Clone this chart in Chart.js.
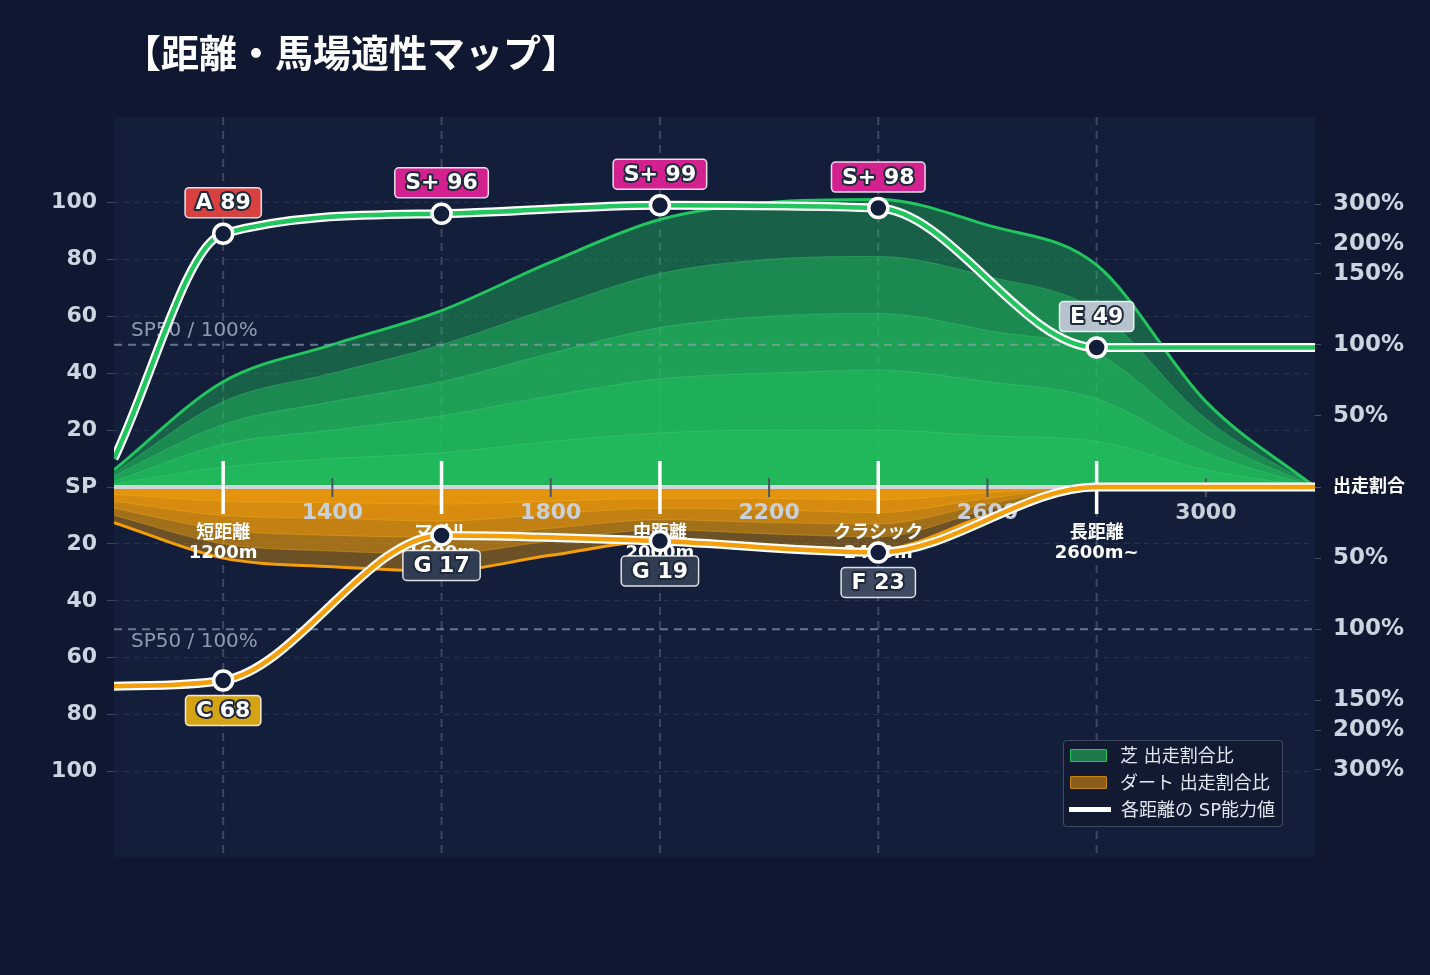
<!DOCTYPE html>
<html lang="ja">
<head>
<meta charset="utf-8">
<title>距離・馬場適性マップ</title>
<script src="https://cdn.jsdelivr.net/npm/chart.js@4.4.1/dist/chart.umd.min.js"></script>
<style>
  html, body { margin: 0; padding: 0; background: #0f1830; }
  #wrap { position: relative; width: 1430px; height: 975px; overflow: hidden; }
  #title {
    position: absolute; left: 123px; top: 31px; margin: 0;
    font: bold 38px/46px 'DejaVu Sans', 'Noto Sans CJK JP', sans-serif;
    color: #ffffff; letter-spacing: 0;
  }
  #legend {
    position: absolute; left: 1063px; top: 740px; width: 220px; height: 87px;
    box-sizing: border-box; border: 1px solid rgba(148, 163, 184, 0.35);
    border-radius: 4px; background: #111a30; padding: 1px 0 0 5px;
    font: 18px/27px 'DejaVu Sans', 'Noto Sans CJK JP', sans-serif; color: #e2e8f0;
  }
  #legend .row { height: 27px; display: flex; align-items: center; white-space: nowrap; }
  #legend .sw { width: 35px; height: 11px; margin: 0 13px 0 1px; border: 1.5px solid; border-radius: 1px; }
  #legend .ln { width: 42px; height: 5px; margin: 0 10px 0 0; background: #ffffff; }
</style>
</head>
<body>
<div id="wrap">
  <canvas id="mapChart" width="1430" height="975"></canvas>
  <h1 id="title">【距離・馬場適性マップ】</h1>
  <div id="legend">
    <div class="row"><span class="sw" style="background:#1c7a4b;border-color:#22c55e"></span>芝 出走割合比</div>
    <div class="row"><span class="sw" style="background:#8a5e1c;border-color:#c9860f"></span>ダート 出走割合比</div>
    <div class="row"><span class="ln"></span>各距離の SP能力値</div>
  </div>
</div>
<script>
// 距離ごとの SP能力値
const spDistances = [1000, 1200, 1600, 2000, 2400, 2800, 3200];
const turfSP = [10, 89, 96, 99, 98, 49, 49];
const dirtSP = [70, 68, 17, 19, 23, 0, 0];
const turfGrades = ['', 'A', 'S+', 'S+', 'S+', 'E', ''];
const dirtGrades = ['', 'C', 'G', 'G', 'F', '', ''];

// 出走割合 (層ごと)
const shareDistances = [1000, 1200, 1400, 1600, 1800, 2000, 2200, 2400, 2600, 2800, 3000, 3200];
const turfLayer1 = [6, 37, 50, 62, 79, 94, 100, 101, 92, 78, 30, 0];
const turfLayer2 = [5, 30, 40, 50, 63, 75, 80, 81, 74, 62, 24, 0];
const turfLayer3 = [4, 22, 30, 37, 47, 56, 60, 61, 55, 47, 18, 0];
const turfLayer4 = [2, 15, 20, 25, 32, 38, 40, 41, 37, 31, 12, 0];
const turfLayer5 = [1, 7, 10, 12, 16, 19, 20, 20, 18, 16, 6, 0];
const dirtLayer1 = [12.5, 25, 28, 29.5, 24, 19, 20.5, 22, 10, 0, 0, 0];
const dirtLayer2 = [10, 20, 22.5, 23.5, 19, 15, 16.5, 17.5, 8, 0, 0, 0];
const dirtLayer3 = [7.5, 15, 17, 17.5, 14.5, 11.5, 12.5, 13, 6, 0, 0, 0];
const dirtLayer4 = [5, 10, 11, 12, 9.5, 7.5, 8, 9, 4, 0, 0, 0];
const dirtLayer5 = [2.5, 5, 5.5, 6, 5, 4, 4, 4.5, 2, 0, 0, 0];

// カテゴリ
const categoryPositions = [1200, 1600, 2000, 2400, 2800];
const categoryNames = ['短距離', 'マイル', '中距離', 'クラシック', '長距離'];
const categoryDists = ['1200m', '1600m', '2000m', '2400m', '2600m~'];

// 目盛り
const xTickValues = [1400, 1800, 2200, 2600, 3000];
const leftTickValues = [100, 80, 60, 40, 20, 0, -20, -40, -60, -80, -100];
const rightTickValues = [99.3, 85.5, 75, 50, 25, 0, -25, -50, -75, -85.5, -99.3];
const rightTickLabels = ['300%', '200%', '150%', '100%', '50%', '出走割合', '50%', '100%', '150%', '200%', '300%'];

const FONT = "'DejaVu Sans', 'Noto Sans CJK JP', sans-serif";
const GRADE_COLORS = {
    'S+': '#d3218f',
    'A': '#d94141',
    'C': '#d4a414',
    'E': '#b6c2cc',
    'F': '#3d4a5f',
    'G': '#303d52'
};

function toPoints(xs, ys, sign) {
    return ys.map((v, i) => ({ x: xs[i], y: sign * v }));
}

function spDatasets(values, sign, grades, color) {
    return [
        {
            data: toPoints(spDistances, values, sign),
            borderColor: color,
            borderWidth: 4.5,
            fill: false,
            cubicInterpolationMode: 'monotone',
            pointRadius: ctx => grades[ctx.dataIndex] ? 9.5 : 0,
            pointBackgroundColor: '#131f3a',
            pointBorderColor: '#ffffff',
            pointBorderWidth: 3.5
        },
        {
            data: toPoints(spDistances, values, sign),
            borderColor: '#ffffff',
            borderWidth: 9,
            fill: false,
            cubicInterpolationMode: 'monotone',
            pointRadius: 0
        }
    ];
}

function layerDataset(values, sign, fillColor, lineColor, lineWidth) {
    return {
        data: toPoints(shareDistances, values, sign),
        fill: 'origin',
        backgroundColor: fillColor,
        borderColor: lineColor,
        borderWidth: lineWidth,
        cubicInterpolationMode: 'monotone',
        pointRadius: 0
    };
}

const TURF_FILL = 'rgba(34, 197, 94, 0.4)';
const DIRT_FILL = 'rgba(245, 158, 11, 0.4)';

const datasets = [
    ...spDatasets(turfSP, 1, turfGrades, '#22c55e'),
    ...spDatasets(dirtSP, -1, dirtGrades, '#f59e0b'),
    layerDataset(turfLayer5, 1, TURF_FILL, 'rgba(74, 222, 128, 0.3)', 1),
    layerDataset(turfLayer4, 1, TURF_FILL, 'rgba(74, 222, 128, 0.3)', 1),
    layerDataset(turfLayer3, 1, TURF_FILL, 'rgba(74, 222, 128, 0.3)', 1),
    layerDataset(turfLayer2, 1, TURF_FILL, 'rgba(74, 222, 128, 0.3)', 1),
    layerDataset(turfLayer1, 1, TURF_FILL, '#22c55e', 3),
    layerDataset(dirtLayer5, -1, DIRT_FILL, 'rgba(251, 191, 36, 0.3)', 1),
    layerDataset(dirtLayer4, -1, DIRT_FILL, 'rgba(251, 191, 36, 0.3)', 1),
    layerDataset(dirtLayer3, -1, DIRT_FILL, 'rgba(251, 191, 36, 0.3)', 1),
    layerDataset(dirtLayer2, -1, DIRT_FILL, 'rgba(251, 191, 36, 0.3)', 1),
    layerDataset(dirtLayer1, -1, DIRT_FILL, '#f59e0b', 3)
];
const LAST_FILL_INDEX = 4; // この層を描いた直後に中央軸などを描く

function dashedLine(ctx, x1, y1, x2, y2, color, width, dash) {
    ctx.save();
    ctx.strokeStyle = color;
    ctx.lineWidth = width;
    ctx.setLineDash(dash);
    ctx.beginPath();
    ctx.moveTo(x1, y1);
    ctx.lineTo(x2, y2);
    ctx.stroke();
    ctx.restore();
}

const mapPlugin = {
    id: 'mapPlugin',
    beforeDraw(chart) {
        const { ctx, chartArea: a } = chart;
        ctx.save();
        ctx.fillStyle = '#0f1830';
        ctx.fillRect(0, 0, chart.width, chart.height);
        ctx.fillStyle = '#121e3a';
        ctx.fillRect(a.left, a.top, a.right - a.left, a.bottom - a.top);
        ctx.restore();
    },
    beforeDatasetsDraw(chart) {
        const { ctx, chartArea: a, scales } = chart;
        categoryPositions.forEach(d => {
            const x = scales.x.getPixelForValue(d);
            dashedLine(ctx, x, a.top, x, a.bottom, 'rgba(148, 163, 184, 0.32)', 2, [8, 6]);
        });
    },
    afterDatasetDraw(chart, args) {
        if (args.index !== LAST_FILL_INDEX) return;
        const { ctx, chartArea: a, scales } = chart;
        const y0 = scales.y.getPixelForValue(0);

        // SP50 / 100% 基準線
        [50, -50].forEach(v => {
            const y = scales.y.getPixelForValue(v);
            dashedLine(ctx, a.left, y, a.right, y, 'rgba(148, 163, 184, 0.65)', 2, [8, 6]);
            ctx.save();
            ctx.font = '20px ' + FONT;
            ctx.fillStyle = '#8e9aad';
            ctx.textAlign = 'left';
            ctx.textBaseline = 'middle';
            ctx.fillText('SP50 / 100%', a.left + 17, v > 0 ? y - 14 : y + 12);
            ctx.restore();
        });

        // 中央軸
        ctx.save();
        ctx.strokeStyle = '#d1d5db';
        ctx.lineWidth = 4;
        ctx.beginPath();
        ctx.moveTo(a.left, y0);
        ctx.lineTo(a.right, y0);
        ctx.stroke();

        // 距離目盛り
        ctx.strokeStyle = '#4b5563';
        ctx.lineWidth = 2;
        ctx.font = 'bold 22px ' + FONT;
        ctx.fillStyle = '#c8d0dc';
        ctx.textAlign = 'center';
        ctx.textBaseline = 'middle';
        xTickValues.forEach(d => {
            const x = scales.x.getPixelForValue(d);
            ctx.beginPath();
            ctx.moveTo(x, y0 - 9);
            ctx.lineTo(x, y0 + 10);
            ctx.stroke();
            ctx.fillText(String(d), x, y0 + 26);
        });

        // カテゴリ
        ctx.strokeStyle = '#ffffff';
        ctx.lineWidth = 3.5;
        ctx.fillStyle = '#ffffff';
        categoryPositions.forEach((d, i) => {
            const x = scales.x.getPixelForValue(d);
            ctx.beginPath();
            ctx.moveTo(x, y0 - 26);
            ctx.lineTo(x, y0 + 27);
            ctx.stroke();
            ctx.font = "bold 18px 'Noto Sans CJK JP', " + FONT;
            ctx.fillText(categoryNames[i], x, y0 + 44);
            ctx.font = 'bold 18px ' + FONT;
            ctx.fillText(categoryDists[i], x, y0 + 66);
        });
        ctx.restore();
    },
    afterDatasetsDraw(chart) {
        const { ctx } = chart;
        const drawBoxes = (metaIndex, values, grades, offset) => {
            const meta = chart.getDatasetMeta(metaIndex);
            grades.forEach((g, i) => {
                if (!g) return;
                const pt = meta.data[i];
                const text = g + ' ' + values[i];
                ctx.save();
                ctx.font = 'bold 22px ' + FONT;
                const w = ctx.measureText(text).width + 21;
                const h = 30;
                const cx = pt.x;
                const cy = pt.y + offset;
                ctx.beginPath();
                ctx.roundRect(cx - w / 2, cy - h / 2, w, h, 4);
                ctx.fillStyle = GRADE_COLORS[g];
                ctx.fill();
                ctx.lineWidth = 1.5;
                ctx.strokeStyle = 'rgba(255, 255, 255, 0.85)';
                ctx.stroke();
                ctx.textAlign = 'center';
                ctx.textBaseline = 'middle';
                ctx.lineJoin = 'round';
                ctx.lineWidth = 4;
                ctx.strokeStyle = '#1e293b';
                ctx.strokeText(text, cx, cy + 1);
                ctx.fillStyle = '#ffffff';
                ctx.fillText(text, cx, cy + 1);
                ctx.restore();
            });
        };
        drawBoxes(0, turfSP, turfGrades, -31);
        drawBoxes(2, dirtSP, dirtGrades, 30);
    }
};

new Chart(document.getElementById('mapChart'), {
    type: 'line',
    data: { datasets },
    plugins: [mapPlugin],
    options: {
        responsive: false,
        animation: false,
        events: [],
        layout: { padding: { top: 117, bottom: 118, left: 0, right: 0 } },
        plugins: {
            legend: { display: false },
            tooltip: { enabled: false },
            title: { display: false }
        },
        scales: {
            x: {
                type: 'linear',
                min: 1000,
                max: 3200,
                display: false
            },
            y: {
                position: 'left',
                min: -130,
                max: 130,
                afterBuildTicks: s => { s.ticks = leftTickValues.map(v => ({ value: v })); },
                afterFit: s => { s.width = 114; },
                border: { display: false, dash: [5, 5] },
                grid: {
                    color: ctx => ctx.tick && ctx.tick.value === 0 ? 'rgba(0,0,0,0)' : 'rgba(148, 163, 184, 0.17)',
                    lineWidth: 1,
                    tickLength: 7,
                    tickColor: 'rgba(148, 163, 184, 0.35)',
                    tickBorderDash: []
                },
                ticks: {
                    padding: 10,
                    color: '#cbd5e1',
                    font: { family: FONT, size: 22, weight: 'bold' },
                    callback: v => v === 0 ? 'SP' : String(Math.abs(v))
                }
            },
            y2: {
                position: 'right',
                min: -130,
                max: 130,
                afterBuildTicks: s => { s.ticks = rightTickValues.map(v => ({ value: v })); },
                afterFit: s => { s.width = 115; },
                border: { display: false },
                grid: {
                    drawOnChartArea: false,
                    tickLength: 6,
                    tickColor: 'rgba(148, 163, 184, 0.4)'
                },
                ticks: {
                    padding: 12,
                    color: ctx => ctx.tick.value === 0 ? '#ffffff' : '#cbd5e1',
                    font: ctx => ({
                        family: FONT,
                        size: ctx.tick && ctx.tick.value === 0 ? 18 : 23,
                        weight: 'bold'
                    }),
                    callback: (v, i) => rightTickLabels[i]
                }
            }
        }
    }
});
</script>
</body>
</html>
